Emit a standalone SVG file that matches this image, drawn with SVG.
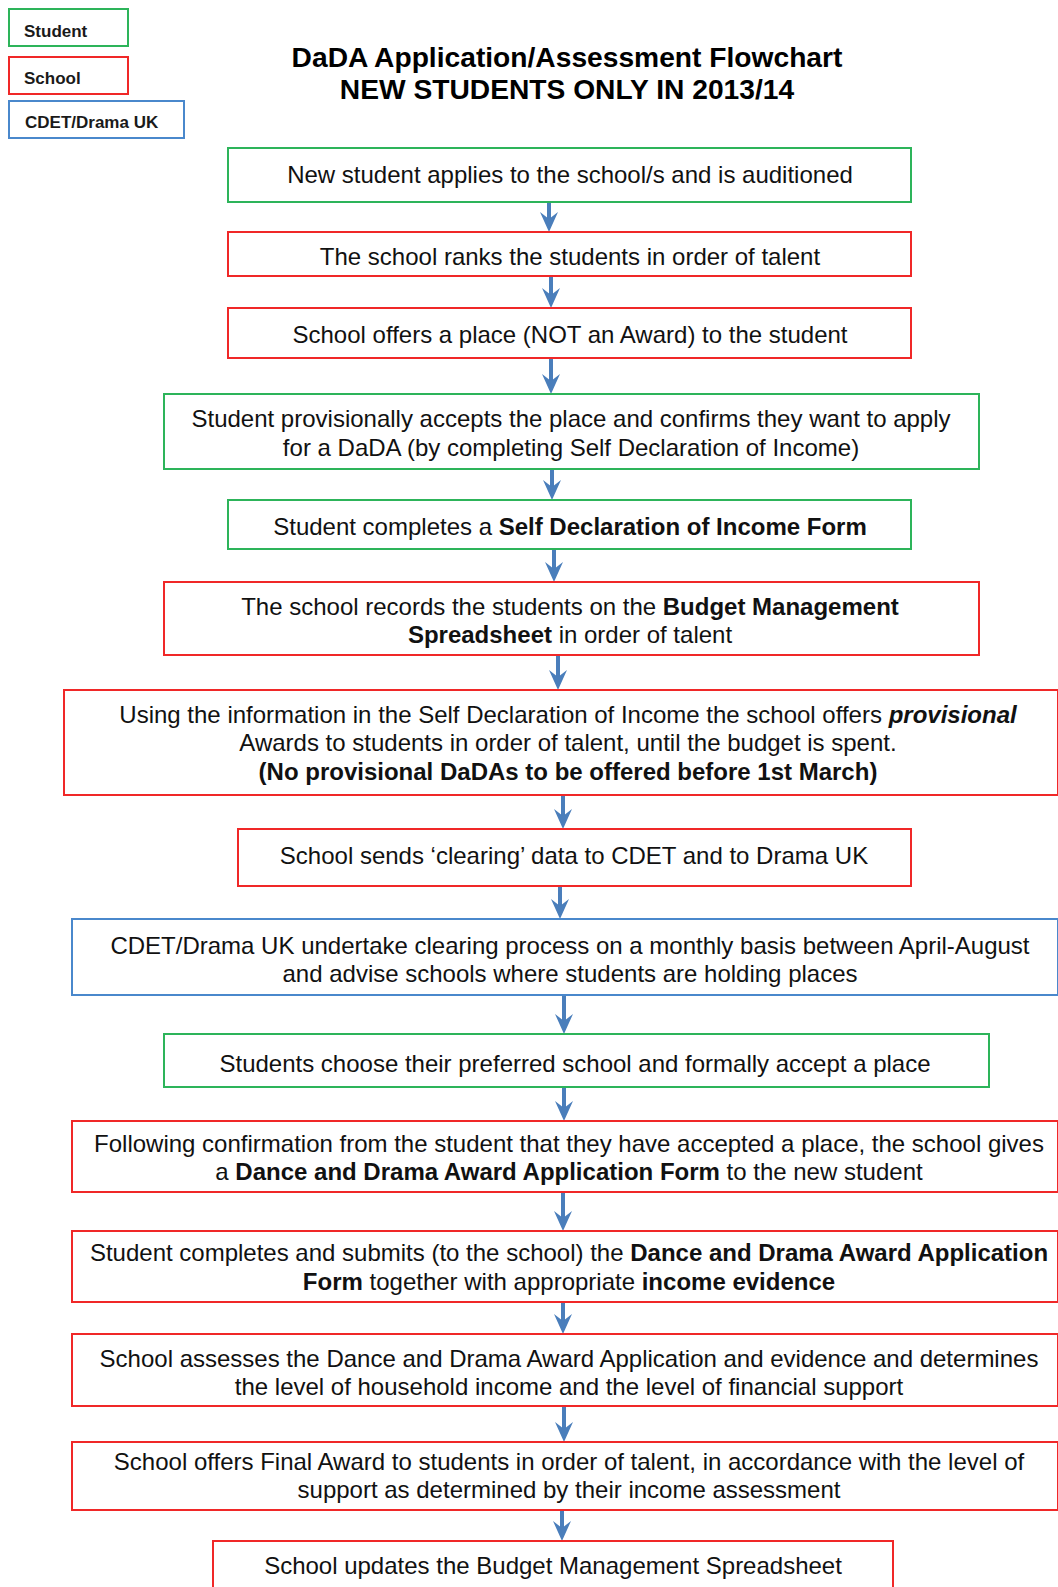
<svg xmlns="http://www.w3.org/2000/svg" width="1058" height="1587" viewBox="0 0 1058 1587">
<style>
  .box { fill: #ffffff; stroke-width: 2; }
  .stu { stroke: #2db45a; }
  .sch { stroke: #f02828; }
  .cdet { stroke: #4a88cc; }
  .t { font-family: "Liberation Sans", Arial, sans-serif; font-size: 24px; fill: #111111; text-anchor: middle; }
  .b { font-weight: bold; }
  .bi { font-weight: bold; font-style: italic; }
  .title { font-family: "Liberation Sans", Arial, sans-serif; font-size: 28.2px; font-weight: bold; fill: #000000; text-anchor: middle; }
  .leg { font-family: "Liberation Sans", Arial, sans-serif; font-size: 17px; font-weight: bold; fill: #1a1a1a; }
  .arr { stroke: #4a7ebb; stroke-width: 4; fill: none; marker-end: url(#ah); }
</style>
<defs>
  <marker id="ah" markerUnits="userSpaceOnUse" markerWidth="20" markerHeight="20" viewBox="0 0 20 20" refX="10" refY="10" orient="auto">
    <path d="M0,1 L20,10 L0,19 L7,10 Z" fill="#4a7ebb"/>
  </marker>
</defs>
<rect width="1058" height="1587" fill="#ffffff"/>

<g id="legend">
  <g id="legend-student"><rect class="box stu" x="9" y="9" width="119" height="37"/><text class="leg" x="24" y="37">Student</text></g>
  <g id="legend-school"><rect class="box sch" x="9" y="57" width="119" height="37"/><text class="leg" x="24" y="84">School</text></g>
  <g id="legend-cdet"><rect class="box cdet" x="9" y="101" width="175" height="37"/><text class="leg" x="25" y="128">CDET/Drama UK</text></g>
</g>

<g id="title">
  <text class="title" x="567" y="67">DaDA Application/Assessment Flowchart</text>
  <text class="title" x="567" y="99">NEW STUDENTS ONLY IN 2013/14</text>
</g>

<g id="connectors">
  <path class="arr" d="M549,202 V222"/>
  <path class="arr" d="M551,276 V298"/>
  <path class="arr" d="M551,358 V384"/>
  <path class="arr" d="M552,469 V490"/>
  <path class="arr" d="M554,549 V572"/>
  <path class="arr" d="M558,655 V680"/>
  <path class="arr" d="M563,795 V819"/>
  <path class="arr" d="M560,886 V909"/>
  <path class="arr" d="M564,995 V1024"/>
  <path class="arr" d="M564,1087 V1111"/>
  <path class="arr" d="M563,1192 V1221"/>
  <path class="arr" d="M563,1302 V1324"/>
  <path class="arr" d="M564,1406 V1432"/>
  <path class="arr" d="M562,1510 V1531"/>
</g>

<g id="n1"><rect class="box stu" x="228" y="148" width="683" height="54"/>
  <text class="t" x="570" y="183">New student applies to the school/s and is auditioned</text></g>

<g id="n2"><rect class="box sch" x="228" y="232" width="683" height="44"/>
  <text class="t" x="570" y="265">The school ranks the students in order of talent</text></g>

<g id="n3"><rect class="box sch" x="228" y="308" width="683" height="50"/>
  <text class="t" x="570" y="343">School offers a place (NOT an Award) to the student</text></g>

<g id="n4"><rect class="box stu" x="164" y="394" width="815" height="75"/>
  <text class="t" x="571" y="427">Student provisionally accepts the place and confirms they want to apply</text>
  <text class="t" x="571" y="456">for a DaDA (by completing Self Declaration of Income)</text></g>

<g id="n5"><rect class="box stu" x="228" y="500" width="683" height="49"/>
  <text class="t" x="570" y="535">Student completes a <tspan class="b">Self Declaration of Income Form</tspan></text></g>

<g id="n6"><rect class="box sch" x="164" y="582" width="815" height="73"/>
  <text class="t" x="570" y="615">The school records the students on the <tspan class="b">Budget Management</tspan></text>
  <text class="t" x="570" y="643"><tspan class="b">Spreadsheet</tspan> in order of talent</text></g>

<g id="n7"><rect class="box sch" x="64" y="690" width="994" height="105"/>
  <text class="t" x="568" y="723">Using the information in the Self Declaration of Income the school offers <tspan class="bi">provisional</tspan></text>
  <text class="t" x="568" y="751">Awards to students in order of talent, until the budget is spent.</text>
  <text class="t b" x="568" y="780">(No provisional DaDAs to be offered before 1st March)</text></g>

<g id="n8"><rect class="box sch" x="238" y="829" width="673" height="57"/>
  <text class="t" x="574" y="864">School sends ‘clearing’ data to CDET and to Drama UK</text></g>

<g id="n9"><rect class="box cdet" x="72" y="919" width="986" height="76"/>
  <text class="t" x="570" y="954">CDET/Drama UK undertake clearing process on a monthly basis between April-August</text>
  <text class="t" x="570" y="982">and advise schools where students are holding places</text></g>

<g id="n10"><rect class="box stu" x="164" y="1034" width="825" height="53"/>
  <text class="t" x="575" y="1072">Students choose their preferred school and formally accept a place</text></g>

<g id="n11"><rect class="box sch" x="72" y="1121" width="986" height="71"/>
  <text class="t" x="569" y="1152">Following confirmation from the student that they have accepted a place, the school gives</text>
  <text class="t" x="569" y="1180">a <tspan class="b">Dance and Drama Award Application Form</tspan> to the new student</text></g>

<g id="n12"><rect class="box sch" x="72" y="1231" width="986" height="71"/>
  <text class="t" x="569" y="1261">Student completes and submits (to the school) the <tspan class="b">Dance and Drama Award Application</tspan></text>
  <text class="t" x="569" y="1290"><tspan class="b">Form</tspan> together with appropriate <tspan class="b">income evidence</tspan></text></g>

<g id="n13"><rect class="box sch" x="72" y="1334" width="986" height="72"/>
  <text class="t" x="569" y="1367">School assesses the Dance and Drama Award Application and evidence and determines</text>
  <text class="t" x="569" y="1395">the level of household income and the level of financial support</text></g>

<g id="n14"><rect class="box sch" x="72" y="1442" width="986" height="68"/>
  <text class="t" x="569" y="1470">School offers Final Award to students in order of talent, in accordance with the level of</text>
  <text class="t" x="569" y="1498">support as determined by their income assessment</text></g>

<g id="n15"><rect class="box sch" x="213" y="1541" width="680" height="60"/>
  <text class="t" x="553" y="1574">School updates the Budget Management Spreadsheet</text></g>
</svg>
